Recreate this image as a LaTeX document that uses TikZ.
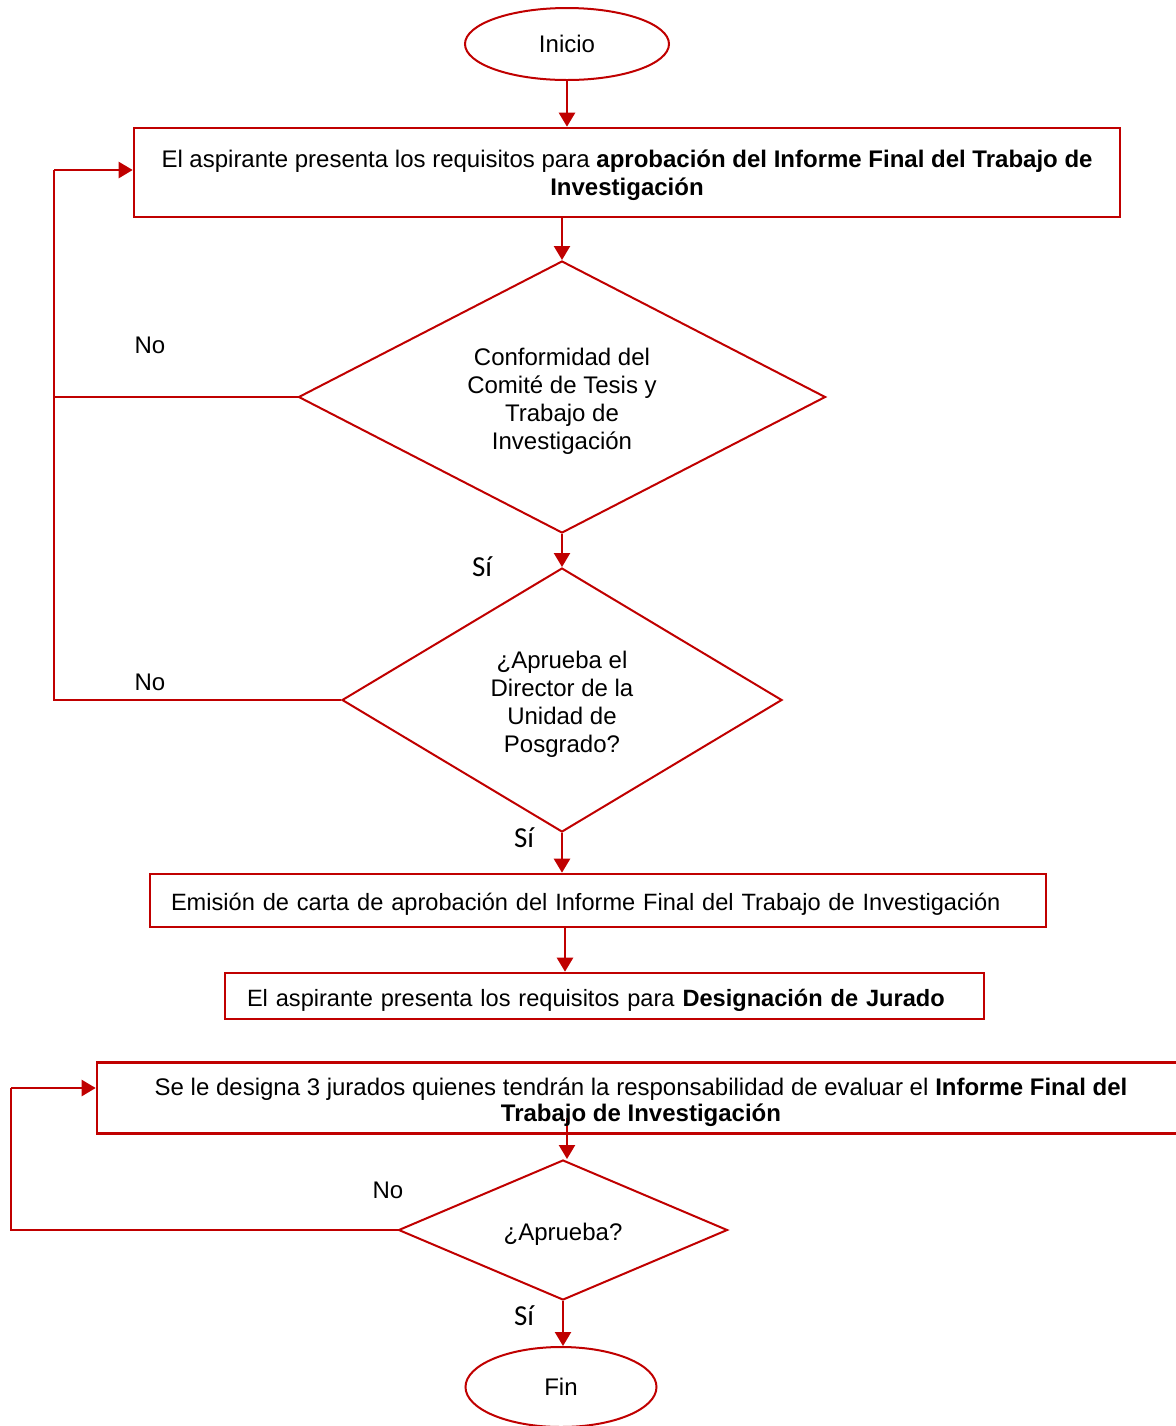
\documentclass[tikz,border=0pt]{standalone}
\usepackage{fontspec}
\setmainfont{Liberation Sans}
\newfontfamily\calibri{Carlito}
\usepackage{tikz}
\usetikzlibrary{shapes.geometric,arrows.meta}
\definecolor{rojo}{RGB}{192,0,0}
\pgfdeclarelayer{edgelayer}
\pgfdeclarelayer{nodelayer}
\pgfsetlayers{edgelayer,nodelayer,main}
\tikzstyle{edge}=[draw=rojo, line width=1.2pt, -{Triangle[length=7pt,width=8pt]}]
\tikzstyle{back}=[draw=rojo, line width=0.6pt]
\tikzstyle{paso}=[rectangle, draw=rojo, line width=1.3pt, inner sep=0pt, text height=12.5pt]
\tikzstyle{decision}=[diamond, draw=rojo, line width=1pt, aspect=1.9, inner sep=0pt, align=center, text height=12.5pt]
\tikzstyle{terminal}=[ellipse, draw=rojo, line width=1pt, inner sep=0pt]
\tikzstyle{etiqueta}=[inner sep=0pt]
\tikzstyle{si}=[inner sep=0pt, font=\calibri\fontsize{14.5}{17}\selectfont]

\begin{document}
\begin{tikzpicture}[x=0.5pt, y=-0.5pt, font=\fontsize{12}{14}\selectfont]
				\useasboundingbox (0,0) rectangle (1175,1426);
				\begin{pgfonlayer}{nodelayer}
					\node [style=terminal, minimum width=102pt, minimum height=36pt] (0) at (567, 44) {Inicio};
					\node [style=paso, minimum width=493pt, minimum height=44.5pt, align=center, text height=25.8pt] (1) at (627, 172.5) {El aspirante presenta los requisitos para \textbf{aprobación del Informe Final del Trabajo de}\\\textbf{Investigación}};
					\node [style=decision, minimum width=263.5pt, minimum height=136pt, text height=54.8pt] (2) at (562, 397) {Conformidad del\\Comité de Tesis y\\Trabajo de\\Investigación};
					\node [style=decision, minimum width=220pt, minimum height=132pt, text height=54.8pt] (3) at (562, 700) {¿Aprueba el\\Director de la\\Unidad de\\Posgrado?};
					\node [style=paso, minimum width=448pt, minimum height=26.5pt, text width=427pt, align=left, font=\fontsize{11.8}{14}\selectfont] (4) at (598, 900.5) {Emisión de carta de aprobación del Informe Final del Trabajo de Investigación};
					\node [style=paso, minimum width=379.5pt, minimum height=23pt, text width=357.5pt, align=left, font=\fontsize{11.8}{14}\selectfont] (5) at (604.5, 996) {El aspirante presenta los requisitos para \textbf{Designación de Jurado}};
					\node [style=paso, minimum width=544pt, minimum height=35.5pt, align=center, font=\fontsize{12}{13}\selectfont, text height=25.8pt] (6) at (641, 1098) {Se le designa 3 jurados quienes tendrán la responsabilidad de evaluar el \textbf{Informe Final del}\\\textbf{Trabajo de Investigación}};
					\node [style=decision, minimum width=164.5pt, minimum height=70pt] (7) at (563, 1230) {¿Aprueba?};
					\node [style=terminal, minimum width=95.5pt, minimum height=40pt] (8) at (561, 1387) {Fin};
					\coordinate (9) at (565, 950);
					\coordinate (10) at (567, 1118);
					\coordinate (11) at (54, 170);
					\coordinate (12) at (11, 1088);
					\node [style=etiqueta] (13) at (150, 345) {No};
					\node [style=etiqueta] (14) at (150, 682) {No};
					\node [style=etiqueta] (15) at (388, 1190) {No};
					\node [style=si] (16) at (482, 567) {Sí};
					\node [style=si] (17) at (524, 838) {Sí};
					\node [style=si] (18) at (524, 1316) {Sí};
				\end{pgfonlayer}
				\begin{pgfonlayer}{edgelayer}
					\draw [style=edge] (0.south) to (0.south |- 1.north);
					\draw [style=edge] (2.north |- 1.south) to (2.north);
					\draw [style=edge] (2.south) to (3.north);
					\draw [style=edge] (3.south) to (3.south |- 4.north);
					\draw [style=edge] (9 |- 4.south) to (9 |- 5.north);
					\draw [style=edge] (10) to (10 |- 7.north);
					\draw [style=edge] (7.south) to (7.south |- 8.north);
					\draw [style=back] (2.west) -| (11);
					\draw [style=back] (3.west) -| (11);
					\draw [style=edge] (11) to (11 -| 1.west);
					\draw [style=back] (7.west) -| (12);
					\draw [style=edge] (12) to (12 -| 6.west);
				\end{pgfonlayer}
			\end{tikzpicture}
\end{document}
